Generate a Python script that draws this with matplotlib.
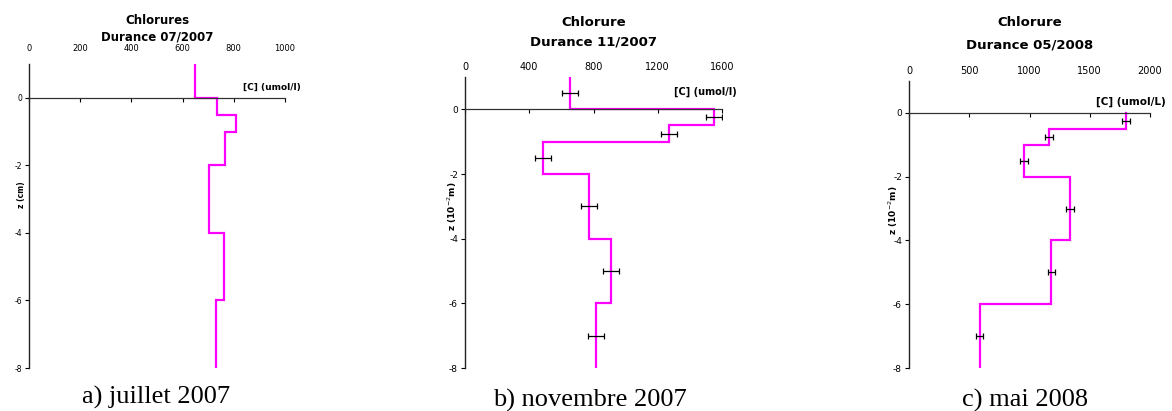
import matplotlib
matplotlib.use('Agg')
import matplotlib.pyplot as plt

plt.rcParams['axes.unicode_minus'] = False
plt.rcParams['font.family'] = 'DejaVu Sans'

W, H = 1172, 411

# layer boundaries (z, 10^-2 m) and chloride concentration per layer
z_a = [1, 0, -0.5, -1, -2, -4, -6, -8]
c_a = [650, 735, 810, 766, 704, 760, 729]

z_b = [1, 0, -0.5, -1, -2, -4, -6, -8]
c_b = [656, 1552, 1268, 488, 774, 909, 816]
zerr_b = [0.5, -0.25, -0.75, -1.5, -3, -5, -7]
err_b = [50, 50, 50, 50, 50, 50, 50]

z_c = [0, -0.5, -1, -2, -4, -6, -8]
c_c = [1800, 1162, 954, 1336, 1181, 587]
zerr_c = [-0.25, -0.75, -1.5, -3, -5, -7]
err_c = [30, 30, 30, 30, 30, 30]

titles = [('Chlorures', 'Durance 07/2007'), ('Chlorure', 'Durance 11/2007'), ('Chlorure', 'Durance 05/2008')]
xlabels = ['[C] (umol/l)', '[C] (umol/l)', '[C] (umol/L)']
ylabels = ['z (cm)', 'z (10$^{-2}$m)', 'z (10$^{-2}$m)']
captions = ['a) juillet 2007', 'b) novembre 2007', 'c) mai 2008']
xticks = [[0, 200, 400, 600, 800, 1000], [0, 400, 800, 1200, 1600], [0, 500, 1000, 1500, 2000]]


def px_axes(l, r, t, b):
    return [l / W, 1 - b / H, (r - l) / W, (b - t) / H]


def profile(z, c):
    xs, ys = [], []
    for i, v in enumerate(c):
        xs += [v, v]
        ys += [z[i], z[i + 1]]
    return xs, ys


panels = [
    dict(rect=px_axes(29, 285, 64, 368), z=z_a, c=c_a, zt=None, e=None,
         tfs=8.5, tickfs=6, pad=5, title_y=(21, 37), xl=(1060, 0.3), xlfs=6.5, yl=(21.7, 195), cap=(156, 397)),
    dict(rect=px_axes(465, 722, 77, 368), z=z_b, c=c_b, zt=zerr_b, e=err_b,
         tfs=9.5, tickfs=7, pad=0.5, title_y=(23, 42), xl=(1690, 0.55), xlfs=7, yl=(452.7, 206), cap=(590, 400)),
    dict(rect=px_axes(909, 1150, 81, 368), z=z_c, c=c_c, zt=zerr_c, e=err_c,
         tfs=9.5, tickfs=7, pad=0.5, title_y=(23, 45), xl=(2130, 0.36), xlfs=7.5, yl=(893, 210), cap=(1025, 400)),
]

fig = plt.figure(figsize=(W / 100, H / 100), dpi=100)

for i, p in enumerate(panels):
    ax = fig.add_axes(p['rect'])
    xs, ys = profile(p['z'], p['c'])
    ax.plot(xs, ys, color='#ff00ff', lw=1.6, solid_joinstyle='miter')
    if p['zt'] is not None:
        # error bar centres sit on the layer value
        ctr = []
        for zz in p['zt']:
            for k in range(len(p['c'])):
                if p['z'][k] >= zz >= p['z'][k + 1]:
                    ctr.append(p['c'][k])
                    break
        ax.errorbar(ctr, p['zt'], xerr=p['e'], fmt='none', ecolor='black',
                    elinewidth=0.9, capsize=2.2, capthick=0.9)
    ax.set_xlim(xticks[i][0], xticks[i][-1])
    ax.set_ylim(-8, 1)
    ax.set_xticks(xticks[i])
    ax.set_yticks([-8, -6, -4, -2, 0])
    ax.spines['top'].set_visible(False)
    ax.spines['right'].set_visible(False)
    ax.spines['bottom'].set_position(('data', 0))
    ax.spines['bottom'].set_color('#333333')
    ax.spines['bottom'].set_linewidth(0.9)
    ax.spines['left'].set_color('#222222')
    ax.spines['left'].set_linewidth(1.0)
    ax.tick_params(axis='x', bottom=True, top=False, labelbottom=False, labeltop=True,
                   direction='out', length=3, width=0.8, pad=p['pad'], labelsize=p['tickfs'])
    ax.tick_params(axis='y', direction='out', length=3, width=0.8, pad=2, labelsize=p['tickfs'] - 0.5)
    ax.patch.set_alpha(0)

    cx = (p['rect'][0] + p['rect'][2] / 2)
    for line, ty in zip(titles[i], p['title_y']):
        fig.text(cx, 1 - ty / H, line, ha='center', va='center',
                 fontsize=p['tfs'], fontweight='bold')
    ax.text(p['xl'][0], p['xl'][1], xlabels[i], ha='right', va='center',
            fontsize=p['xlfs'], fontweight='bold', clip_on=False)
    fig.text(p['yl'][0] / W, 1 - p['yl'][1] / H, ylabels[i], rotation=90,
             ha='center', va='center', fontsize=p['tickfs'] - 0.5, fontweight='bold')
    fig.text(p['cap'][0] / W, 1 - p['cap'][1] / H, captions[i], ha='center', va='center',
             fontsize=19, family='Liberation Serif')

fig.savefig('out.png', dpi=100)
